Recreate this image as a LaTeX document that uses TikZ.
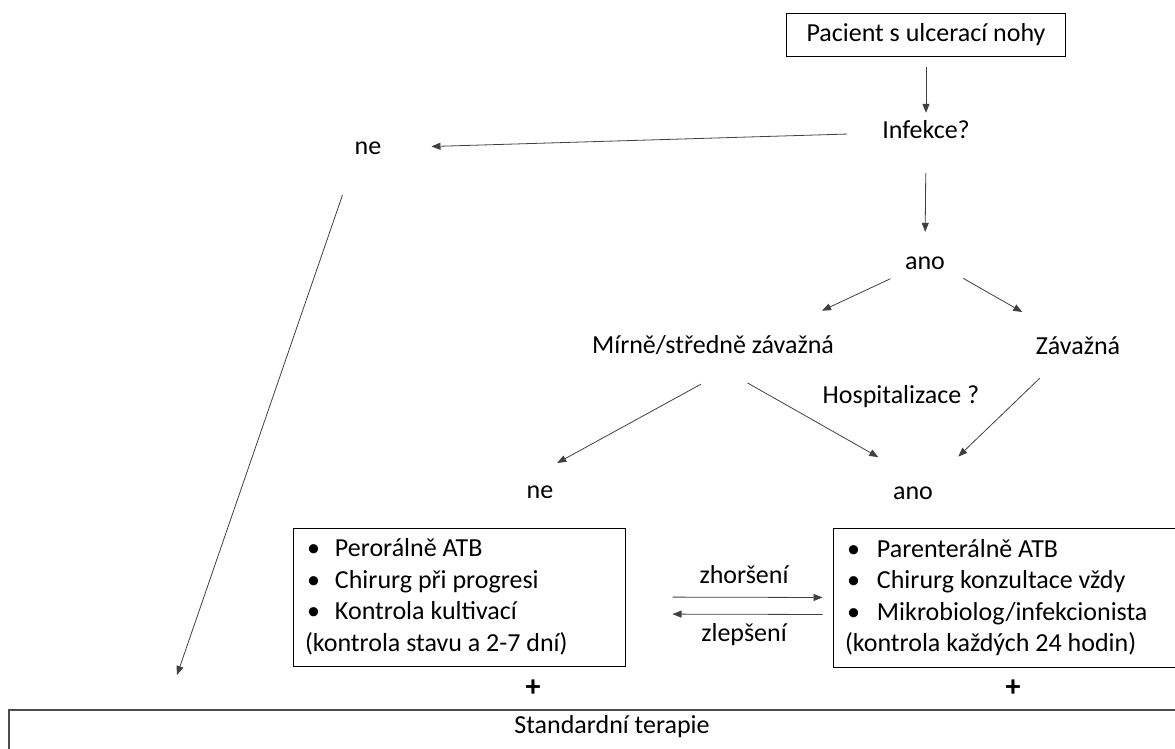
\documentclass[tikz,border=0pt]{standalone}
\usepackage{fontspec}
\setmainfont{Carlito}
\usetikzlibrary{arrows.meta,positioning,calc}

\begin{document}
\begin{tikzpicture}[x=1pt,y=-1pt,>={Triangle[length=9pt,width=7pt]},
    txt/.style={inner sep=0pt,text height=18pt,text depth=6pt,font=\fontsize{26}{31.5}\selectfont},
    startbox/.style={draw,line width=1pt,inner xsep=20pt,inner ysep=10pt,font=\fontsize{26}{31.5}\selectfont},
    listbox/.style={draw,line width=1pt,align=flush left,inner xsep=12pt,inner ysep=8pt,font=\fontsize{26}{31.5}\selectfont},
    stdbox/.style={draw=black!70,line width=1.6pt},
    plus/.style={inner sep=0pt,font=\fontsize{30}{30}\selectfont\bfseries},
    arr/.style={->,draw=black!75,line width=0.8pt}]
    \useasboundingbox (0,0) rectangle (1175,749);
    \clip (0,0) rectangle (1175,749);

    % Start and first decision
    \node[startbox] (pacient) at (926,35) {Pacient s ulcerací nohy};
    \node[txt] (infekce) at (926,133) {Infekce?};
    \node[txt] (ne1) at (368,148) {ne};
    \node[txt] (ano1) at (925,263) {ano};

    % Severity
    \node[txt] (mirne) at (713,347) {Mírně/středně závažná};
    \node[txt] (zavazna) at (1078,348) {Závažná};
    \node[txt] (hosp) at (901,397) {Hospitalizace ?};
    \node[txt] (ne2) at (540,492) {ne};
    \node[txt] (ano2) at (913,493) {ano};

    % Treatment boxes
    \node[listbox,text width=308pt,minimum height=138pt] (oral) at (459,597) {%
        \hspace*{2pt}\makebox[28pt][l]{•}Perorálně ATB\\
        \hspace*{2pt}\makebox[28pt][l]{•}Chirurg při progresi\\
        \hspace*{2pt}\makebox[28pt][l]{•}Kontrola kultivací\\
        (kontrola stavu a 2-7 dní)};
    \node[listbox,text width=338pt,minimum height=139pt] (parent) at (1014,597.5) {%
        \hspace*{2pt}\makebox[30pt][l]{•}Parenterálně ATB\\
        \hspace*{2pt}\makebox[30pt][l]{•}Chirurg konzultace vždy\\
        \hspace*{2pt}\makebox[30pt][l]{•}Mikrobiolog/infekcionista\\
        (kontrola každých 24 hodin)};
    \node[txt] (zhor) at (744,577) {zhoršení};
    \node[txt] (zlep) at (744,635) {zlepšení};
    \node[plus] (plus1) at (533,688) {+};
    \node[plus] (plus2) at (1013,688) {+};

    % Standard therapy
    \node[stdbox,anchor=north west,minimum width=1240pt,minimum height=80pt] (std) at (8,709) {};
    \node[txt] (stdtext) at (612,727) {Standardní terapie};
    \coordinate (stdtip) at (177,675);

    % Connectors
    \draw[arr,shorten <=10pt,shorten >=8pt] (pacient.south) -- (infekce.north);
    \draw[arr,shorten <=35pt,shorten >=50pt] (infekce.west) -- (ne1.east);
    \draw[arr,shorten <=37pt] (ne1.south west) -- (stdtip);
    \draw[arr,shorten <=28pt,shorten >=19pt] (infekce.south) -- (ano1.north);
    \draw[arr,shorten <=16pt,shorten >=57pt] (ano1.204) -- (mirne.12);
    \draw[arr,shorten <=21pt,shorten >=48pt] (ano1.346) -- (zavazna.139);
    \draw[arr,shorten <=52pt,shorten >=35pt] (mirne.340) -- (ne2.north west);
    \draw[arr,shorten <=48pt,shorten >=48pt] (mirne.239) -- (ano2.60);
    \draw[arr,shorten <=26pt,shorten >=35pt] (zavazna.212) -- (ano2.north east);
    \draw[arr,shorten <=47pt,shorten >=10pt] (oral.east) -- (parent.west);
    \draw[arr,shorten <=10pt,shorten >=47pt] ([yshift=-17pt]parent.west) -- ([yshift=-17pt]oral.east);
\end{tikzpicture}
\end{document}
